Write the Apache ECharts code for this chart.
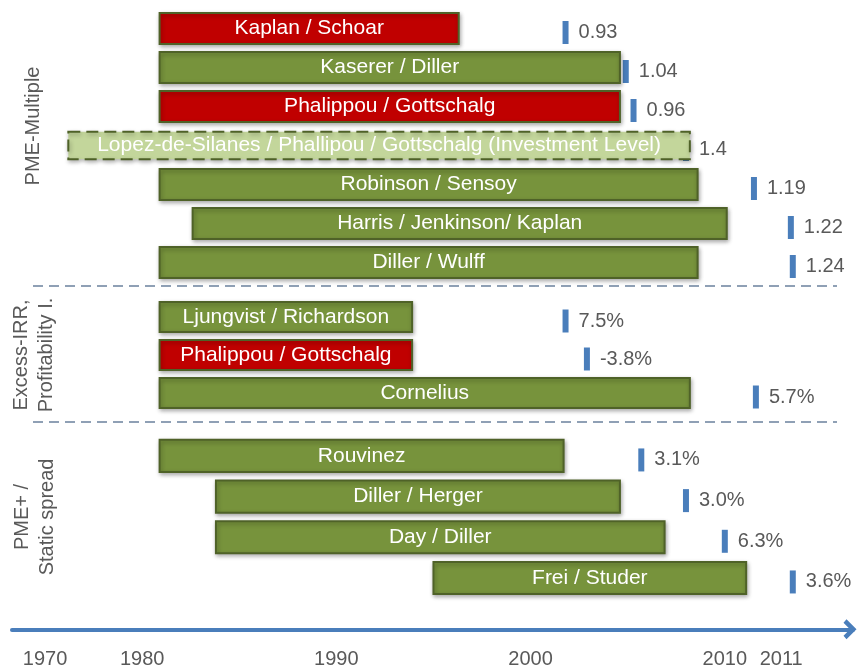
<!DOCTYPE html>
<html>
<head>
<meta charset="utf-8">
<title>PE performance studies</title>
<script src="https://cdn.jsdelivr.net/npm/echarts@6.0.0/dist/echarts.min.js"></script>
<style>
  html, body { margin: 0; padding: 0; background: #fff; }
  #chart { width: 860px; height: 670px; }
</style>
</head>
<body>
<div id="chart"></div>
<script>
// PME-Multiple studies (sample period in years, marker year, result)
var pmeStudies = ['Kaplan / Schoar', 'Kaserer / Diller', 'Phalippou / Gottschalg',
  'Lopez-de-Silanes / Phallipou / Gottschalg (Investment Level)', 'Robinson / Sensoy',
  'Harris / Jenkinson/ Kaplan', 'Diller / Wulff'];
var pmeStart = [1980.9, 1980.9, 1980.9, 1971.2, 1980.9, 1982.6, 1980.9];
var pmeEnd = [1996.3, 2004.6, 2004.6, 2008.2, 2008.6, 2010.1, 2008.6];
var pmeMark = [2001.8, 2004.9, 2005.3, 2008.0, 2011.5, 2013.4, 2013.5];
var pmeResult = [0.93, 1.04, 0.96, 1.4, 1.19, 1.22, 1.24];
var pmeLevel = ['fund', 'fund', 'fund', 'investment', 'fund', 'fund', 'fund'];

// Excess-IRR / Profitability index studies
var irrStudies = ['Ljungvist / Richardson', 'Phalippou / Gottschalg', 'Cornelius'];
var irrStart = [1980.9, 1980.9, 1980.9];
var irrEnd = [1993.9, 1993.9, 2008.2];
var irrMark = [2001.8, 2002.9, 2011.6];
var irrResult = [7.5, -3.8, 5.7];

// PME+ / static spread studies
var spreadStudies = ['Rouvinez', 'Diller / Herger', 'Day / Diller', 'Frei / Studer'];
var spreadStart = [1980.9, 1983.8, 1983.8, 1995.0];
var spreadEnd = [2001.7, 2004.6, 2006.9, 2011.1];
var spreadMark = [2005.7, 2008.0, 2010.0, 2013.5];
var spreadResult = [3.1, 3.0, 6.3, 3.6];

var tickYears = [1970, 1980, 1990, 2000, 2010, 2011];
var groupNames = ['PME-Multiple', 'Excess-IRR,\nProfitability I.', 'PME+ /\nStatic spread'];

var FONT = '"Liberation Sans", Arial, sans-serif';
var GREEN = '#77933C', RED = '#C00000', LIGHT = '#C3D69B', EDGE = '#4F6228';
var GREY = '#595959', BLUE = '#4A7EBB';

// red = below benchmark, green = above
function colorsFor(results, limit, levels) {
  return results.map(function(v, i) {
    if (levels && levels[i] === 'investment') return LIGHT;
    return v < limit ? RED : GREEN;
  });
}

function barSeries(grid, names, starts, ends, colors, levels) {
  return {
    type: 'custom',
    xAxisIndex: grid,
    yAxisIndex: grid,
    z: 3,
    encode: { x: [0, 1], y: 2 },
    data: names.map(function(n, i) { return [starts[i], ends[i], i]; }),
    renderItem: function(params, api) {
      var i = params.dataIndex;
      var dashed = levels && levels[i] === 'investment';
      var a = api.coord([api.value(0), api.value(2)]);
      var b = api.coord([api.value(1), api.value(2)]);
      var h = api.size([0, 1])[1] * (dashed ? 0.7 : 0.79);
      var style = {
        fill: colors[i], stroke: EDGE, lineWidth: 2,
        shadowBlur: 4, shadowOffsetX: 1, shadowOffsetY: 2, shadowColor: 'rgba(0,0,0,0.3)'
      };
      if (dashed) style.lineDash = [12, 6];
      return {
        type: 'rect',
        shape: { x: a[0], y: a[1] - h / 2, width: b[0] - a[0], height: h },
        style: style,
        textContent: { style: { text: names[i], fill: '#fff', fontSize: 21, fontFamily: FONT } },
        textConfig: { position: 'inside' }
      };
    }
  };
}

function markSeries(grid, marks, labels) {
  return {
    type: 'scatter',
    xAxisIndex: grid,
    yAxisIndex: grid,
    z: 2,
    symbol: 'rect',
    symbolSize: [6, 23],
    symbolOffset: [0, 4],
    itemStyle: { color: BLUE, opacity: 1 },
    label: {
      show: true, position: 'right', distance: 10,
      color: GREY, fontSize: 20, fontFamily: FONT,
      formatter: function(p) { return labels[p.dataIndex]; }
    },
    data: marks.map(function(m, i) { return [m, i]; })
  };
}

function pct(v) { return v.toFixed(1) + '%'; }

// timeline is compressed before 1980 (axis break)
var yearBreaks = [{ start: 1972.5, end: 1977.5, gap: 0 }];

function xAxisFor(grid) {
  var last = grid === 2;
  return {
    type: 'value',
    gridIndex: grid,
    min: 1968.3,
    max: 2016.6,
    breaks: yearBreaks,
    breakArea: { show: false },
    show: last,
    position: 'bottom',
    offset: last ? 31 : 0,
    splitLine: { show: false },
    axisTick: { show: false },
    axisLine: {
      show: last,
      // open arrow head, drawn pointing up and turned by the axis
      symbol: ['none', 'path://M0,10 L10,0 L20,10 L16.5,13 L10,6.5 L3.5,13 Z'],
      symbolSize: [20, 13],
      symbolOffset: [0, -3],
      lineStyle: { color: BLUE, width: 4 }
    },
    axisLabel: {
      show: last,
      customValues: tickYears,
      margin: 20,
      color: GREY,
      fontSize: 20,
      fontFamily: FONT,
      formatter: function(v) { return v === 2011 ? '{far|' + v + '}' : String(v); },
      rich: { far: { padding: [0, 0, 0, 74], color: GREY, fontSize: 20, fontFamily: FONT } }
    }
  };
}

var nameGaps = [-34, -47, -48];
var namePads = [[0, 0, 0, 39], 0, 0];
var yCats = [pmeStudies, irrStudies, spreadStudies];

function yAxisFor(grid) {
  return {
    type: 'category',
    gridIndex: grid,
    data: yCats[grid],
    inverse: true,
    axisLine: { show: false },
    axisTick: { show: false },
    axisLabel: { show: false },
    name: groupNames[grid],
    nameLocation: 'middle',
    nameRotate: 90,
    nameGap: nameGaps[grid],
    nameTextStyle: { color: GREY, fontSize: 20, fontFamily: FONT, lineHeight: 25, padding: namePads[grid] }
  };
}

var chart = echarts.init(document.getElementById('chart'));
var option = {
  animation: false,
  backgroundColor: '#fff',
  grid: [
    { left: 12, right: 7, top: 9, height: 273 },
    { left: 12, right: 7, top: 298, height: 114 },
    { left: 12, right: 7, top: 435.6, height: 162.7 }
  ],
  xAxis: [xAxisFor(0), xAxisFor(1), xAxisFor(2)],
  yAxis: [yAxisFor(0), yAxisFor(1), yAxisFor(2)],
  graphic: [
    { type: 'line', shape: { x1: 33, y1: 286, x2: 837, y2: 286 },
      style: { stroke: '#8FA0B5', lineWidth: 2, lineDash: [10, 6] } },
    { type: 'line', shape: { x1: 33, y1: 422, x2: 837, y2: 422 },
      style: { stroke: '#8FA0B5', lineWidth: 2, lineDash: [10, 6] } }
  ],
  series: [
    barSeries(0, pmeStudies, pmeStart, pmeEnd, colorsFor(pmeResult, 1, pmeLevel), pmeLevel),
    markSeries(0, pmeMark, pmeResult.map(String)),
    barSeries(1, irrStudies, irrStart, irrEnd, colorsFor(irrResult, 0)),
    markSeries(1, irrMark, irrResult.map(pct)),
    barSeries(2, spreadStudies, spreadStart, spreadEnd, colorsFor(spreadResult, 0)),
    markSeries(2, spreadMark, spreadResult.map(pct))
  ]
};
chart.setOption(option);
</script>
</body>
</html>
